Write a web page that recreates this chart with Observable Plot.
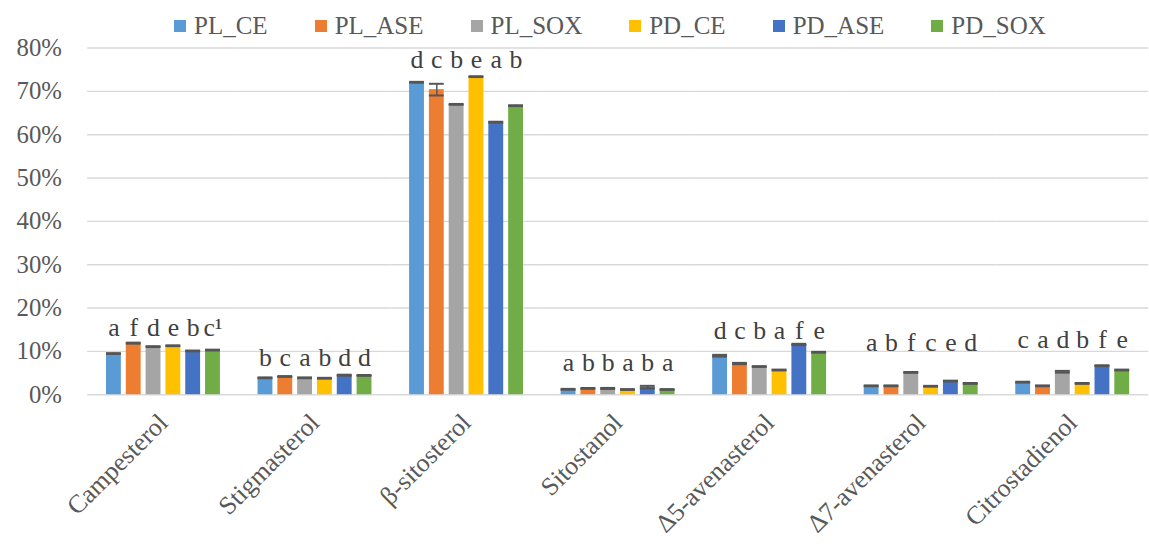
<!DOCTYPE html>
<html><head><meta charset="utf-8">
<script src="https://cdn.jsdelivr.net/npm/d3@7"></script>
<script src="https://cdn.jsdelivr.net/npm/@observablehq/plot@0.6"></script>
<style>
body{margin:0;background:#fff;overflow:hidden;}
#wrap{position:relative;width:1149px;height:549px;overflow:hidden;}
#legend{position:absolute;left:174px;top:12px;display:flex;align-items:center;font-family:"Liberation Serif",serif;font-size:25px;color:#595959;white-space:nowrap;z-index:2;}
.item{display:flex;align-items:center;margin-right:47px;}
.sw{width:12px;height:12px;margin-right:8px;}
#wrap svg g[aria-label="fx-axis tick label"] text{font-size:26px;}
</style></head><body><div id="wrap"><div id="legend"></div></div>
<script>
const categories = ["Campesterol", "Stigmasterol", "β-sitosterol", "Sitostanol", "Δ5-avenasterol", "Δ7-avenasterol", "Citrostadienol"];
const series = ["PL_CE", "PL_ASE", "PL_SOX", "PD_CE", "PD_ASE", "PD_SOX"];
const colors = ["#5B9BD5", "#ED7D31", "#A5A5A5", "#FFC000", "#4472C4", "#70AD47"];

// values in % (one array per series, in category order)
const PL_CE  = [9.5, 3.9, 72.1, 1.25, 9.0, 2.05, 2.9];
const PL_ASE = [11.9, 4.2, 70.4, 1.45, 7.2, 2.05, 2.05];
const PL_SOX = [11.1, 3.9, 67.0, 1.45, 6.5, 5.15, 5.3];
const PD_CE  = [11.3, 3.8, 73.4, 1.2, 5.7, 1.95, 2.6];
const PD_ASE = [10.1, 4.5, 62.9, 1.75, 11.6, 3.15, 6.7];
const PD_SOX = [10.3, 4.45, 66.7, 1.2, 9.8, 2.6, 5.7];

// standard deviations in %
const PL_CE_err  = [0.1, 0.1, 0.1, 0.1, 0.2, 0.1, 0.1];
const PL_ASE_err = [0.12, 0.1, 1.35, 0.1, 0.15, 0.1, 0.1];
const PL_SOX_err = [0.1, 0.1, 0.1, 0.12, 0.1, 0.1, 0.2];
const PD_CE_err  = [0.1, 0.1, 0.1, 0.1, 0.1, 0.1, 0.1];
const PD_ASE_err = [0.1, 0.12, 0.1, 0.3, 0.15, 0.1, 0.1];
const PD_SOX_err = [0.1, 0.1, 0.1, 0.1, 0.1, 0.1, 0.1];

// significance letters per category
const letters = ["a f d e b c¹", "b c a b d d", "d c b e a b", "a b b a b a", "d c b a f e", "a b f c e d", "c a d b f e"];
const letterLevel = [13.6, 6.6, 75.4, 5.5, 12.8, 10.1, 10.8];

const yTicks = [0, 10, 20, 30, 40, 50, 60, 70, 80];

const seriesValues = [PL_CE, PL_ASE, PL_SOX, PD_CE, PD_ASE, PD_SOX];
const seriesErrors = [PL_CE_err, PL_ASE_err, PL_SOX_err, PD_CE_err, PD_ASE_err, PD_SOX_err];

const rows = categories.flatMap((c, i) => {
  const ls = letters[i].split(" ");
  return series.map((s, j) => ({
    category: c, series: s,
    value: seriesValues[j][i], err: seriesErrors[j][i],
    letter: ls[j], level: letterLevel[i]
  }));
});

// legend
const legend = document.getElementById("legend");
series.forEach((s, j) => {
  const it = document.createElement("div");
  it.className = "item";
  const sw = document.createElement("span");
  sw.className = "sw"; sw.style.background = colors[j];
  const tx = document.createElement("span");
  tx.textContent = s;
  it.appendChild(sw); it.appendChild(tx);
  legend.appendChild(it);
});

const chart = Plot.plot({
  width: 1160, height: 549,
  marginLeft: 87, marginRight: 0, marginTop: 48, marginBottom: 151,
  style: {fontFamily: "Liberation Serif, serif", fontSize: "25px", color: "#595959", background: "transparent"},
  facet: {data: rows, x: "category"},
  fx: {domain: categories, padding: 0, axis: "bottom", label: null, tickSize: 0, tickPadding: 24, tickRotate: -45},
  x: {domain: series, paddingInner: 0.227, paddingOuter: 0.816, axis: null},
  y: {domain: [0, 80], ticks: yTicks, tickFormat: d => d + "%", tickSize: 0, tickPadding: 26, label: null},
  color: {domain: series, range: colors},
  marks: [
    Plot.ruleY(yTicks, {stroke: "#d9d9d9", strokeWidth: 1.5}),
    Plot.barY(rows, {x: "series", y: "value", fill: "series"}),
    Plot.ruleX(rows, {x: "series", y1: d => d.value - d.err, y2: d => d.value + d.err, stroke: "#555", strokeWidth: 1.5}),
    Plot.tickY(rows, {x: "series", y: d => d.value + d.err, stroke: "#555", strokeWidth: 2}),
    Plot.tickY(rows, {x: "series", y: d => d.value - d.err, stroke: "#555", strokeWidth: 2}),
    Plot.text(rows, {x: "series", y: "level", text: "letter", lineAnchor: "bottom", fill: "#404040", fontSize: 26})
  ]
});
document.getElementById("wrap").appendChild(chart);
</script>
</body></html>
